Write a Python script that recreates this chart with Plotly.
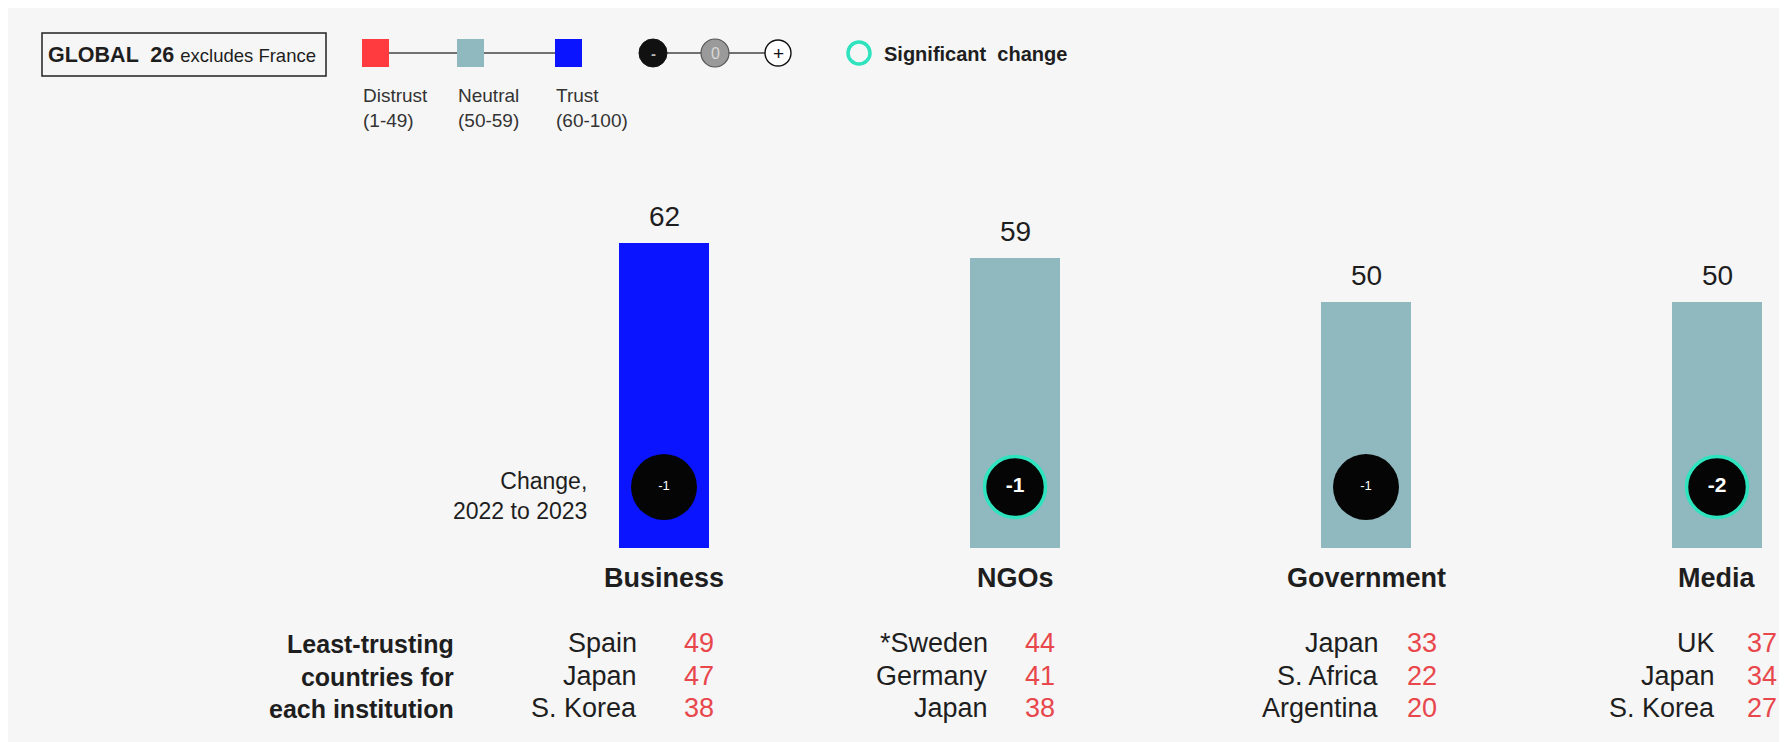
import plotly.graph_objects as go

# ---------------- data ----------------
institutions = ["Business", "NGOs", "Government", "Media"]
trust_2023 = [62, 59, 50, 50]
change_vs_2022 = [-1, -1, -1, -2]
significant = [False, True, False, True]
least_countries = [
    ["Spain", "Japan", "S. Korea"],
    ["*Sweden", "Germany", "Japan"],
    ["Japan", "S. Africa", "Argentina"],
    ["UK", "Japan", "S. Korea"],
]
least_scores = [
    [49, 47, 38],
    [44, 41, 38],
    [33, 22, 20],
    [37, 34, 27],
]
legend_levels = ["Distrust<br>(1-49)", "Neutral<br>(50-59)", "Trust<br>(60-100)"]

# ---------------- style / layout ----------------
W, H = 1787, 742
PAGE_OFF = 8       # default body margin of the html page
FONT = "Liberation Sans, Arial, sans-serif"
BG = "#F6F6F6"
TXT = "#1E1E1E"
RED = "#FF3B3F"
NEUTRAL = "#8FB8BF"
TRUST = "#0A14FF"
TEAL = "#2FE3BE"
NUMRED = "#E8474C"

X0_PX = 664.0      # page pixel centre of first category
STEP_PX = 351.0    # pixel spacing of categories
BASE_PX = 548.0    # page pixel y of value 0
PX_PER_UNIT = 4.92

def color_for(v):
    if v >= 60:
        return TRUST
    if v >= 50:
        return NEUTRAL
    return RED

def px2x(px):
    return (px - X0_PX) / STEP_PX

def px2y(py):
    return (BASE_PX - py) / PX_PER_UNIT

xr = [px2x(PAGE_OFF), px2x(PAGE_OFF + W)]
yr = [px2y(PAGE_OFF + H), px2y(PAGE_OFF)]

cat_idx = list(range(len(institutions)))

fig = go.Figure()

# bars
fig.add_trace(go.Bar(
    x=cat_idx, y=trust_2023, width=90 / STEP_PX,
    marker=dict(color=[color_for(v) for v in trust_2023], line=dict(width=0)),
    hoverinfo="skip", showlegend=False,
))

# change circles
circle_y = px2y(487)
fig.add_trace(go.Scatter(
    x=cat_idx, y=[circle_y] * len(cat_idx), mode="markers+text",
    marker=dict(size=[61 if s else 66 for s in significant], color="#050505", opacity=1,
                line=dict(color=[TEAL if s else "#050505" for s in significant],
                          width=[3.5 if s else 0 for s in significant])),
    text=[("<b>%d</b>" % c) if s else ("%d" % c) for c, s in zip(change_vs_2022, significant)],
    textposition="middle center",
    textfont=dict(family=FONT, color="white", size=[21 if s else 13 for s in significant]),
    hoverinfo="skip", showlegend=False,
))

annotations = []
shapes = []

def ann(x, y, text, size, color=TXT, xanchor="center", yanchor="middle", align="center", **kw):
    annotations.append(dict(x=x, y=y, xref="x", yref="y", text=text, showarrow=False,
                            font=dict(family=FONT, size=size, color=color),
                            xanchor=xanchor, yanchor=yanchor, align=align, **kw))

# value labels and category labels
for i, (name, v) in enumerate(zip(institutions, trust_2023)):
    ann(i, v, str(v), 28, yanchor="bottom", yshift=9)
    ann(i, px2y(578), "<b>%s</b>" % name, 27)

# change label
ann(px2x(589), px2y(496), "Change,<br>2022 to 2023", 23, xanchor="right", align="right")

# least trusting table
ann(px2x(456), px2y(676), "<b>Least-trusting<br>countries for<br>each institution</b>", 25,
    xanchor="right", align="right")
row_y_px = [643, 676, 708]
country_right_px = [639, 990, 1381, 1717]
score_left_px = [682, 1023, 1405, 1745]
for i in cat_idx:
    for r, ypx in enumerate(row_y_px):
        ann(px2x(country_right_px[i]), px2y(ypx), least_countries[i][r], 27,
            xanchor="right", align="right")
        ann(px2x(score_left_px[i]), px2y(ypx), str(least_scores[i][r]), 27,
            color=NUMRED, xanchor="left", align="left")

# ---------------- legend header ----------------
def rect(x0, y0, x1, y1, fill=None, line_color=None, lw=0):
    shapes.append(dict(type="rect", xref="x", yref="y",
                       x0=px2x(x0), x1=px2x(x1), y0=px2y(y1), y1=px2y(y0),
                       fillcolor=fill if fill else "rgba(0,0,0,0)",
                       line=dict(color=line_color if line_color else "rgba(0,0,0,0)", width=lw),
                       layer="above"))

def hline(x0, x1, y, color="#444", lw=1.5):
    shapes.append(dict(type="line", xref="x", yref="y", x0=px2x(x0), x1=px2x(x1),
                       y0=px2y(y), y1=px2y(y), line=dict(color=color, width=lw), layer="above"))

def circle(cx, cy, r, fill, line_color, lw):
    shapes.append(dict(type="circle", xref="x", yref="y",
                       x0=px2x(cx - r), x1=px2x(cx + r), y0=px2y(cy + r), y1=px2y(cy - r),
                       fillcolor=fill, line=dict(color=line_color, width=lw), layer="above"))

rect(42, 33, 326, 76, line_color="#222", lw=1.5)
ann(px2x(46), px2y(55),
    "<b>GLOBAL  26</b> <span style='font-size:18.5px'>excludes France</span>", 21.5,
    xanchor="left")

hline(375, 568, 53)
sq_left = [362, 457, 555]
sq_colors = [RED, NEUTRAL, TRUST]
for l, c, lab in zip(sq_left, sq_colors, legend_levels):
    rect(l, 39, l + 27, 67, fill=c)
    ann(px2x(l - 1), px2y(108), lab, 19, xanchor="left", align="left", color="#333")

hline(653, 778, 53)
circle(653, 53, 14, "#111", "#111", 1)
circle(715, 53, 14, "#9A9A9A", "#555", 1.2)
circle(778, 53, 13, "white", "#111", 1.4)
ann(px2x(653), px2y(53), "<b>-</b>", 15, color="#BBBBBB")
ann(px2x(715), px2y(53), "0", 16, color="#D8D8D8")
ann(px2x(778), px2y(53), "+", 19, color="#111")

circle(859, 53, 11, "rgba(0,0,0,0)", TEAL, 3.5)
ann(px2x(882), px2y(54), "<b>Significant  change</b>", 20, xanchor="left")

fig.update_layout(
    width=W, height=H,
    margin=dict(l=0, r=0, t=0, b=0),
    paper_bgcolor=BG, plot_bgcolor=BG,
    xaxis=dict(range=xr, visible=False, fixedrange=True),
    yaxis=dict(range=yr, visible=False, fixedrange=True),
    annotations=annotations, shapes=shapes,
    showlegend=False, bargap=0,
)

fig.write_html("out.html")
